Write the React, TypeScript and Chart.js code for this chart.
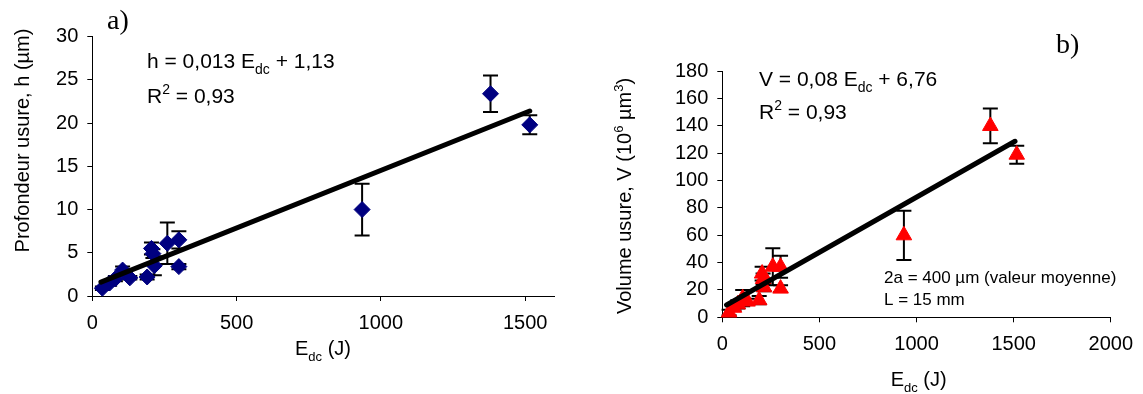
import React, { useEffect, useRef } from 'react';
import { Chart, registerables } from 'chart.js';

Chart.register(...registerables);

// ---------- data ----------
const edc = [35, 60, 80, 105, 130, 190, 205, 210, 215, 260, 300, 300, 935, 1380, 1516];
const depth = [0.9, 1.5, 2.0, 3.0, 2.1, 2.2, 5.5, 4.9, 3.5, 6.1, 6.5, 3.4, 10.0, 23.4, 19.8];
const depthErr = [0.2, 0.3, 0.3, 0.4, 0.2, 0.3, 0.7, 0.5, 1.1, 2.4, 1.0, 0.3, 3.0, 2.1, 1.1];
const volume = [3.5, 7, 9.5, 14, 11.5, 12.5, 32, 28, 22, 37, 37, 21, 60, 140, 119];
const volumeErr = [2, 2, 3, 6, 2, 3, 5, 4, 3, 13.5, 8, 2.5, 18, 12.7, 6.6];
const depthTrendX = [30, 1516];
const depthTrendY = [1.6, 21.4];
const volumeTrendX = [22, 1507];
const volumeTrendY = [9, 128.8];
const depthTicks = [0, 5, 10, 15, 20, 25, 30];
const volumeTicks = [0, 20, 40, 60, 80, 100, 120, 140, 160, 180];
const edcTicksA = [0, 500, 1000, 1500];
const edcTicksB = [0, 500, 1000, 1500, 2000];
const edcMaxA = 1600;
const edcMaxB = 2000;

const SANS = "'Liberation Sans', Arial, sans-serif";
const SERIF = "'Liberation Serif', 'Times New Roman', serif";

type Part = [string, string?];

function drawRich(ctx: CanvasRenderingContext2D, parts: Part[], x: number, y: number, size: number, align: string, family: string, rotate = false) {
  ctx.save();
  ctx.fillStyle = '#000';
  ctx.textBaseline = 'alphabetic';
  ctx.textAlign = 'left';
  const fontFor = (k?: string) => `${k === 'sub' || k === 'sup' ? Math.round(size * 0.65) : size}px ${family}`;
  let total = 0;
  for (const [t, k] of parts) { ctx.font = fontFor(k); total += ctx.measureText(t).width; }
  ctx.translate(x, y);
  if (rotate) ctx.rotate(-Math.PI / 2);
  let cx = align === 'center' ? -total / 2 : 0;
  for (const [t, k] of parts) {
    ctx.font = fontFor(k);
    const dy = k === 'sub' ? size * 0.28 : k === 'sup' ? -size * 0.42 : 0;
    ctx.fillText(t, cx, dy);
    cx += ctx.measureText(t).width;
  }
  ctx.restore();
}

const errorBarPlugin = {
  id: 'errbars',
  beforeDatasetsDraw(chart: any, _args: any, opts: any) {
    const { ctx } = chart;
    const xs = chart.scales.x, ys = chart.scales.y;
    ctx.save();
    ctx.strokeStyle = '#000';
    ctx.lineWidth = 2;
    const xv: number[] = opts.xs, yv: number[] = opts.ys, ev: number[] = opts.errs;
    for (let i = 0; i < xv.length; i++) {
      const px = xs.getPixelForValue(xv[i]);
      const top = ys.getPixelForValue(yv[i] + ev[i]);
      const bot = ys.getPixelForValue(Math.max(yv[i] - ev[i], 0));
      ctx.beginPath();
      ctx.moveTo(px, top); ctx.lineTo(px, bot);
      ctx.moveTo(px - 7.5, top); ctx.lineTo(px + 7.5, top);
      ctx.moveTo(px - 7.5, bot); ctx.lineTo(px + 7.5, bot);
      ctx.stroke();
    }
    ctx.restore();
  },
};

const textPlugin = {
  id: 'texts',
  afterDraw(chart: any, _args: any, opts: any) {
    const { ctx } = chart;
    for (const it of opts.items) {
      drawRich(ctx, it.parts, it.x, it.y, it.size, it.align || 'left', it.family || SANS, !!it.rotate);
    }
  },
};

function makeConfig(p: any) {
  const tickFont = { family: SANS, size: 20 };
  return {
    type: 'scatter',
    data: {
      datasets: [
        {
          type: 'line',
          data: p.trendX.map((x: number, i: number) => ({ x, y: p.trendY[i] })),
          borderColor: '#000',
          borderWidth: 5,
          borderCapStyle: 'round',
          pointRadius: 0,
          showLine: true,
          fill: false,
          order: 0,
          clip: false,
        },
        {
          data: edc.map((x, i) => ({ x, y: p.values[i] })),
          pointStyle: p.pointStyle,
          pointRadius: p.radius,
          backgroundColor: p.color,
          borderColor: p.color,
          borderWidth: 1,
          order: 1,
          clip: false,
        },
      ],
    },
    options: {
      animation: false,
      responsive: false,
      devicePixelRatio: 1,
      events: [],
      layout: { padding: { left: 0, top: p.top, right: p.right, bottom: 0 } },
      scales: {
        x: {
          type: 'linear',
          min: 0,
          max: p.xMax,
          afterBuildTicks: (s: any) => { s.ticks = p.xTicks.map((v: number) => ({ value: v })); },
          afterFit: (s: any) => { s.height = p.xHeight; },
          ticks: { font: tickFont, color: '#000', padding: 10, maxRotation: 0, autoSkip: false, callback: (v: any) => String(v) },
          grid: { drawOnChartArea: false, drawTicks: true, tickLength: 5, color: '#000', lineWidth: 1 },
          border: { display: true, color: '#000', width: 1 },
        },
        y: {
          type: 'linear',
          min: p.yTicks[0],
          max: p.yTicks[p.yTicks.length - 1],
          afterBuildTicks: (s: any) => { s.ticks = p.yTicks.map((v: number) => ({ value: v })); },
          afterFit: (s: any) => { s.width = p.yWidth; },
          ticks: { font: tickFont, color: '#000', padding: 9, autoSkip: false, callback: (v: any) => String(v) },
          grid: { drawOnChartArea: false, drawTicks: true, tickLength: 5, color: '#000', lineWidth: 1 },
          border: { display: true, color: '#000', width: 1 },
        },
      },
      plugins: {
        legend: { display: false },
        tooltip: { enabled: false },
        errbars: { xs: edc, ys: p.values, errs: p.errs },
        texts: { items: p.texts },
      },
    },
    plugins: [errorBarPlugin, textPlugin],
  };
}

const configA = makeConfig({
  values: depth, errs: depthErr, trendX: depthTrendX, trendY: depthTrendY,
  pointStyle: 'rectRot', radius: 8, color: '#000080',
  xTicks: edcTicksA, xMax: edcMaxA, yTicks: depthTicks,
  top: 36.7, right: 16, xHeight: 98, yWidth: 92.3,
  texts: [
    { parts: [['a)']], x: 107, y: 29, size: 28, family: SERIF },
    { parts: [['h = 0,013 E'], ['dc', 'sub'], [' + 1,13']], x: 147, y: 68, size: 21 },
    { parts: [['R'], ['2', 'sup'], [' = 0,93']], x: 147, y: 103, size: 21 },
    { parts: [['E'], ['dc', 'sub'], [' (J)']], x: 323, y: 355, size: 20, align: 'center' },
    { parts: [['Profondeur usure, h (µm)']], x: 28.5, y: 140.5, size: 20, align: 'center', rotate: true },
  ],
});

const configB = makeConfig({
  values: volume, errs: volumeErr, trendX: volumeTrendX, trendY: volumeTrendY,
  pointStyle: 'triangle', radius: 9, color: '#FF0000',
  xTicks: edcTicksB, xMax: edcMaxB, yTicks: volumeTicks,
  top: 71.3, right: 28, xHeight: 76.7, yWidth: 152.3,
  texts: [
    { parts: [['b)']], x: 1056 - 570, y: 53, size: 28, family: SERIF },
    { parts: [['V = 0,08 E'], ['dc', 'sub'], [' + 6,76']], x: 759 - 570, y: 86, size: 21 },
    { parts: [['R'], ['2', 'sup'], [' = 0,93']], x: 759 - 570, y: 119, size: 21 },
    { parts: [['2a = 400 µm (valeur moyenne)']], x: 884 - 570, y: 283, size: 17 },
    { parts: [['L = 15 mm']], x: 884 - 570, y: 305, size: 17 },
    { parts: [['E'], ['dc', 'sub'], [' (J)']], x: 918.7 - 570, y: 386, size: 20, align: 'center' },
    { parts: [['Volume usure, V (10'], ['6', 'sup'], [' µm'], ['3', 'sup'], [')']], x: 631 - 570, y: 196, size: 20, align: 'center', rotate: true },
  ],
});

function ChartCanvas({ config, left, width }: { config: any; left: number; width: number }) {
  const ref = useRef<HTMLCanvasElement>(null);
  useEffect(() => {
    const c = new Chart(ref.current as HTMLCanvasElement, config);
    return () => c.destroy();
  }, [config]);
  return (
    <canvas
      ref={ref}
      width={width}
      height={394}
      style={{ position: 'absolute', left, top: 0, width, height: 394, display: 'block' }}
    />
  );
}

export default function App() {
  return (
    <div style={{ position: 'absolute', left: 0, top: 0, width: 1143, height: 394, background: '#fff', overflow: 'hidden' }}>
      <ChartCanvas config={configA} left={0} width={570} />
      <ChartCanvas config={configB} left={570} width={573} />
    </div>
  );
}
